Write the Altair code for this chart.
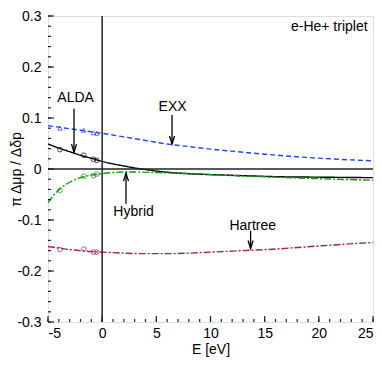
import altair as alt
import pandas as pd

# ---- data ----
alda_E = [-5, -4, -3, -2, -1, 0, 1, 2, 3, 4, 5, 7, 10, 13, 16, 20, 25]
alda_v = [0.049, 0.041, 0.034, 0.027, 0.021, 0.015, 0.010, 0.006, 0.002, -0.001,
          -0.004, -0.008, -0.011, -0.013, -0.015, -0.016, -0.017]

exx_E = [-5, -4, -3, -2, -1, 0, 2, 4, 6, 8, 10, 12, 15, 18, 21, 25]
exx_v = [0.085, 0.082, 0.079, 0.076, 0.073, 0.070, 0.063, 0.056, 0.049, 0.044,
         0.039, 0.035, 0.029, 0.024, 0.020, 0.016]

hyb_E = [-5, -4.5, -4, -3, -2, -1, 0, 1, 2, 3, 5, 8, 12, 16, 20, 25]
hyb_v = [-0.066, -0.052, -0.041, -0.026, -0.017, -0.012, -0.009, -0.007, -0.006,
         -0.006, -0.007, -0.009, -0.013, -0.016, -0.019, -0.022]

har_E = [-5, -4, -3, -2, -1, 0, 2, 4, 6, 8, 10, 12, 14, 16, 18, 20, 22, 25]
har_v = [-0.152, -0.155, -0.158, -0.160, -0.162, -0.163, -0.165, -0.166, -0.166,
         -0.165, -0.163, -0.161, -0.159, -0.157, -0.154, -0.151, -0.148, -0.144]

mark_E = [-3.9, -1.7, -0.8, -0.5]
alda_pts = [0.038, 0.027, 0.019, 0.017]
exx_pts = [0.080, 0.076, 0.071, 0.070]
hyb_pts = [-0.042, -0.014, -0.013, -0.010]
har_pts = [-0.158, -0.157, -0.163, -0.163]

series = ["ALDA", "EXX", "Hybrid", "Hartree"]
colors = ["#000000", "#2244ff", "#139613", "#a3205e"]
dashes = [[1, 0], [5, 3], [7, 2, 2, 2], [7, 2, 2, 2]]

labels = ["ALDA", "EXX", "Hybrid", "Hartree"]
label_x = [-2.45, 6.5, 2.9, 13.9]
label_y = [0.140, 0.122, -0.084, -0.112]
arrow_x = [-2.6, 6.45, 2.2, 13.7]
arrow_from = [0.118, 0.106, -0.068, -0.121]
arrow_to = [0.033, 0.049, -0.008, -0.156]
arrow_dir = ["down", "down", "up", "down"]

x_major = [-5, 0, 5, 10, 15, 20, 25]
x_minor = list(range(-5, 26))
y_major = [-0.3, -0.2, -0.1, 0, 0.1, 0.2, 0.3]
y_minor = [round(-0.3 + 0.02 * i, 2) for i in range(31)]

W, H = 325, 306

curves = pd.DataFrame(
    [{"series": "ALDA", "E": e, "v": v} for e, v in zip(alda_E, alda_v)]
    + [{"series": "EXX", "E": e, "v": v} for e, v in zip(exx_E, exx_v)]
    + [{"series": "Hybrid", "E": e, "v": v} for e, v in zip(hyb_E, hyb_v)]
    + [{"series": "Hartree", "E": e, "v": v} for e, v in zip(har_E, har_v)]
)
pts = pd.DataFrame(
    [{"series": s, "E": e, "v": v}
     for s, arr in zip(series, [alda_pts, exx_pts, hyb_pts, har_pts])
     for e, v in zip(mark_E, arr)]
)

xs = alt.Scale(domain=[-5, 25], nice=False, zero=False)
ys = alt.Scale(domain=[-0.3, 0.3], nice=False, zero=False)
cs = alt.Scale(domain=series, range=colors)
ds = alt.Scale(domain=series, range=dashes)

FONT = "Liberation Sans"

x_enc = alt.X("E:Q", scale=xs, title="E [eV]",
              axis=alt.Axis(values=x_major, tickSize=0, domain=False, grid=False,
                            labelFontSize=14, titleFontSize=14, labelPadding=4,
                            titleBaseline="alphabetic", titleY=31,
                            labelFont=FONT, titleFont=FONT,
                            labelColor="black", titleColor="black",
                            titleFontWeight="normal",
                            labelExpr="toString(datum.value)"))
y_enc = alt.Y("v:Q", scale=ys, title="π Δμp / Δδp",
              axis=alt.Axis(values=y_major, tickSize=0, domain=False, grid=False,
                            labelFontSize=14, titleFontSize=14, labelPadding=7,
                            titleBaseline="alphabetic", titleX=-28, titleY=H / 2,
                            titleAngle=270,
                            labelFont=FONT, titleFont=FONT,
                            labelColor="black", titleColor="black",
                            titleFontWeight="normal",
                            labelExpr="datum.value == 0 ? '0' : toString(round(datum.value*10)/10)"))

lines = alt.Chart(curves).mark_line(strokeWidth=1.4, interpolate="monotone").encode(
    x=x_enc, y=y_enc,
    color=alt.Color("series:N", scale=cs, legend=None),
    strokeDash=alt.StrokeDash("series:N", scale=ds, legend=None),
    detail="series:N",
)

circ = alt.Chart(pts[pts.series != "EXX"]).mark_point(
    shape="circle", filled=False, size=22, strokeWidth=0.9, opacity=0.8
).encode(x=alt.X("E:Q", scale=xs), y=alt.Y("v:Q", scale=ys),
         color=alt.Color("series:N", scale=cs, legend=None))
tri = alt.Chart(pts[pts.series == "EXX"]).mark_point(
    shape="triangle-up", filled=False, size=20, strokeWidth=0.9, opacity=0.8
).encode(x=alt.X("E:Q", scale=xs), y=alt.Y("v:Q", scale=ys),
         color=alt.Color("series:N", scale=cs, legend=None))

zero_df = pd.DataFrame({"z": [0]})
hzero = alt.Chart(zero_df).mark_rule(color="#222", strokeWidth=1.5).encode(
    y=alt.Y("z:Q", scale=ys))
vzero = alt.Chart(zero_df).mark_rule(color="#222", strokeWidth=1.5).encode(
    x=alt.X("z:Q", scale=xs))

# inward ticks
def yticks(vals, length):
    return alt.Chart(pd.DataFrame({"t": vals})).mark_rule(color="#222", strokeWidth=1.2).encode(
        y=alt.Y("t:Q", scale=ys), x=alt.value(0), x2=alt.value(length))

def xticks(vals, length):
    return alt.Chart(pd.DataFrame({"t": vals})).mark_rule(color="#222", strokeWidth=1.2).encode(
        x=alt.X("t:Q", scale=xs), y=alt.value(H), y2=alt.value(H - length))

ann = pd.DataFrame({"label": labels, "x": label_x, "y": label_y})
ann_text = alt.Chart(ann).mark_text(fontSize=14, font=FONT, color="black",
                                    baseline="middle", align="center").encode(
    x=alt.X("x:Q", scale=xs), y=alt.Y("y:Q", scale=ys), text="label:N")

arr = pd.DataFrame({"x": arrow_x, "y1": arrow_from, "y2": arrow_to, "dir": arrow_dir})
shafts = alt.Chart(arr).mark_rule(color="black", strokeWidth=1.3).encode(
    x=alt.X("x:Q", scale=xs), y=alt.Y("y1:Q", scale=ys), y2="y2:Q")
head_down = alt.Chart(arr[arr.dir == "down"]).mark_point(
    shape="M-0.5,-1.6L0,0L0.5,-1.6", filled=False, size=100, color="black",
    strokeWidth=1.3, opacity=1).encode(
    x=alt.X("x:Q", scale=xs), y=alt.Y("y2:Q", scale=ys))
head_up = alt.Chart(arr[arr.dir == "up"]).mark_point(
    shape="M-0.5,1.6L0,0L0.5,1.6", filled=False, size=100, color="black",
    strokeWidth=1.3, opacity=1).encode(
    x=alt.X("x:Q", scale=xs), y=alt.Y("y2:Q", scale=ys))

title_df = pd.DataFrame({"t": ["e-He+ triplet"], "x": [24.5], "y": [0.278]})
title_txt = alt.Chart(title_df).mark_text(fontSize=14, font=FONT, color="black",
                                          align="right", baseline="middle").encode(
    x=alt.X("x:Q", scale=xs), y=alt.Y("y:Q", scale=ys), text="t:N")

chart = alt.layer(
    lines, circ, tri, hzero, vzero,
    yticks(y_minor, 3), yticks(y_major, 6), xticks(x_minor, 3), xticks(x_major, 6),
    shafts, head_down, head_up, ann_text, title_txt,
).properties(
    width=W, height=H,
    autosize=alt.AutoSizeParams(type="none"),
    padding={"left": 40, "top": 8, "right": 1, "bottom": 36},
).configure_view(stroke="#333", strokeWidth=1.6).configure(background="white")

chart.save("out.html", embed_options={"renderer": "svg", "actions": False})
